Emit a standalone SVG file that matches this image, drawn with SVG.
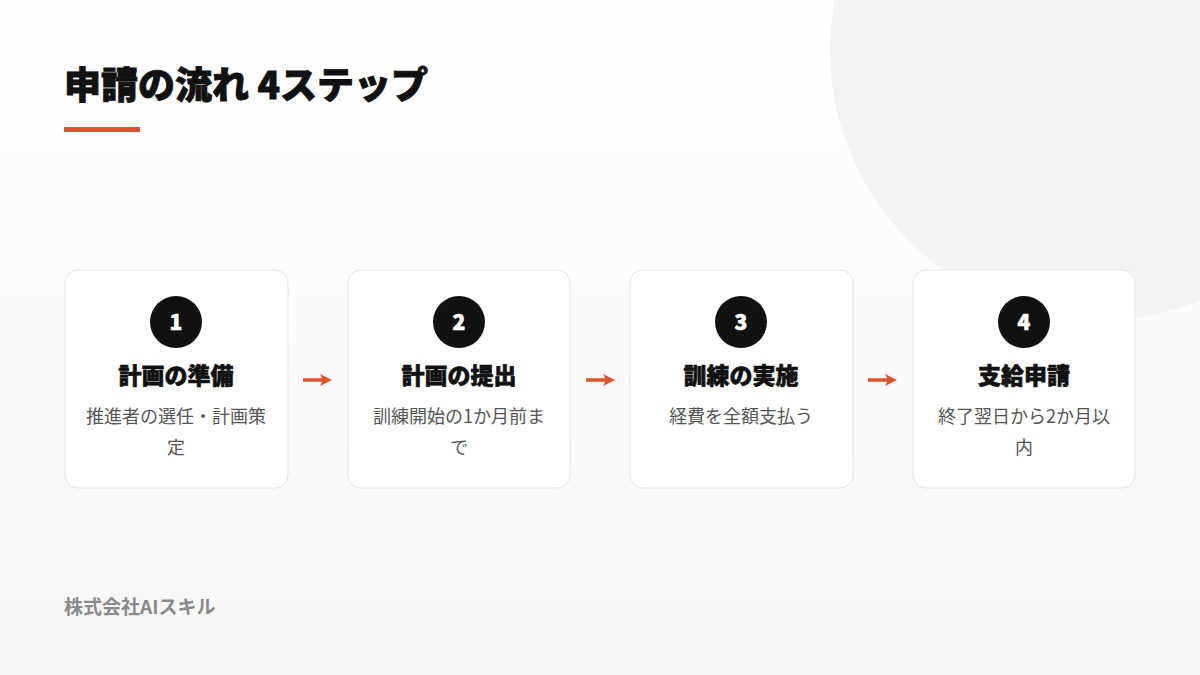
<svg xmlns="http://www.w3.org/2000/svg" width="1200" height="675" viewBox="0 0 1200 675">
<defs>
<linearGradient id="bg" x1="0" y1="0" x2="0" y2="1">
<stop offset="0" stop-color="#ffffff"/>
<stop offset="1" stop-color="#f6f6f6"/>
</linearGradient>
<marker id="ah" viewBox="0 0 12 12" refX="6" refY="6" markerWidth="12" markerHeight="12" markerUnits="userSpaceOnUse" orient="auto">
<path d="M0,0 L12,6 L0,12 L3,6 z" fill="#e0522a"/>
</marker>
</defs>
<style>
text{font-family:"Noto Sans CJK JP","Noto Sans",sans-serif}
.card{fill:#ffffff;stroke:#e4e4e4;stroke-width:1}
.num{fill:#111111}
.numt{fill:#ffffff;font-size:21px;font-weight:900;text-anchor:middle;stroke:#ffffff;stroke-width:0.6}
.title{fill:#111111;font-size:23px;font-weight:900;text-anchor:middle;stroke:#111111;stroke-width:0.6}
.desc{fill:#555555;font-size:18px;text-anchor:middle}
.arr{stroke:#e0522a;stroke-width:3.5;fill:none}
</style>
<rect width="1200" height="675" fill="url(#bg)"/>
<circle cx="1100" cy="50" r="270" fill="#f3f3f3"/>
<text x="64" y="99" font-size="37" font-weight="900" fill="#111111" stroke="#111111" stroke-width="0.9">申請の流れ 4ステップ</text>
<rect x="64" y="127" width="76" height="5" fill="#e0522a"/>

<g id="connectors">
<line class="arr" x1="303" y1="380" x2="326" y2="380" marker-end="url(#ah)"/>
<line class="arr" x1="586" y1="380" x2="609" y2="380" marker-end="url(#ah)"/>
<line class="arr" x1="868" y1="380" x2="891" y2="380" marker-end="url(#ah)"/>
</g>

<g id="step1">
<rect class="card" x="65" y="270" width="223" height="218" rx="13"/>
<circle class="num" cx="176" cy="322" r="26"/>
<text class="numt" x="176" y="330">1</text>
<text class="title" x="176" y="384">計画の準備</text>
<text class="desc" x="176" y="423">推進者の選任・計画策</text>
<text class="desc" x="176" y="454">定</text>
</g>
<g id="step2">
<rect class="card" x="348" y="270" width="222" height="218" rx="13"/>
<circle class="num" cx="459" cy="322" r="26"/>
<text class="numt" x="459" y="330">2</text>
<text class="title" x="459" y="384">計画の提出</text>
<text class="desc" x="459" y="423">訓練開始の1か月前ま</text>
<text class="desc" x="459" y="454">で</text>
</g>
<g id="step3">
<rect class="card" x="630" y="270" width="223" height="218" rx="13"/>
<circle class="num" cx="741" cy="322" r="26"/>
<text class="numt" x="741" y="330">3</text>
<text class="title" x="741" y="384">訓練の実施</text>
<text class="desc" x="741" y="423">経費を全額支払う</text>
</g>
<g id="step4">
<rect class="card" x="913" y="270" width="222" height="218" rx="13"/>
<circle class="num" cx="1024" cy="322" r="26"/>
<text class="numt" x="1024" y="330">4</text>
<text class="title" x="1024" y="384">支給申請</text>
<text class="desc" x="1024" y="423">終了翌日から2か月以</text>
<text class="desc" x="1024" y="454">内</text>
</g>

<text x="64" y="614" font-size="19" font-weight="700" fill="#8a8a8a">株式会社AIスキル</text>
</svg>
